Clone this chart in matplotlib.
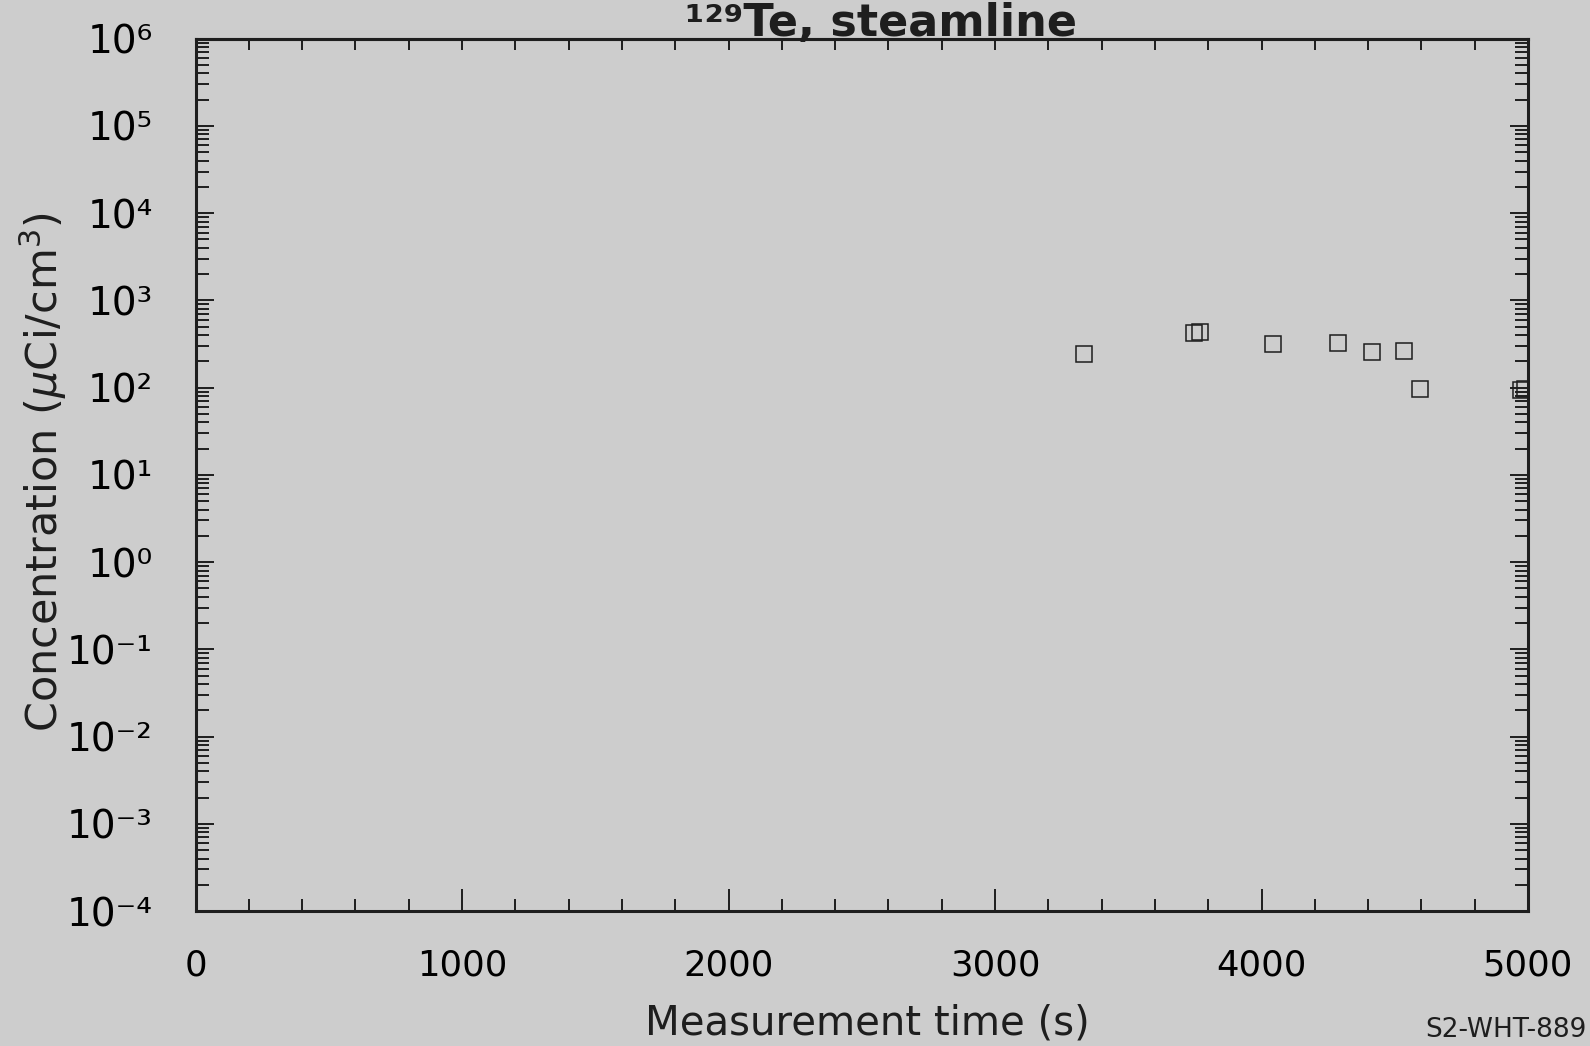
import numpy as np
import matplotlib
matplotlib.use('Agg')
import matplotlib.pyplot as plt
from matplotlib.ticker import MultipleLocator, LogLocator, NullFormatter

# ── Data ──────────────────────────────────────────────────────────────────────
time_s = [3334, 3746, 3769, 4042, 4288, 4413, 4534, 4595, 4975, 4990]
conc   = [240, 425, 440, 315, 325, 258, 265, 96, 94, 96]

x_ticks     = [0, 1000, 2000, 3000, 4000, 5000]
y_exponents = list(range(-4, 7))

BG  = '#cdcdcd'
INK = '#1e1e1e'

SUP = str.maketrans('-0123456789', '⁻⁰¹²³⁴⁵⁶⁷⁸⁹')

fig = plt.figure(figsize=(15.9, 10.46), dpi=100, facecolor=BG)
ax = fig.add_axes([0.123, 0.129, 0.838, 0.834], facecolor=BG)

ax.plot(time_s, conc, linestyle='none', marker='s', markersize=11,
        markerfacecolor='none', markeredgecolor=INK, markeredgewidth=1.1)

ax.set_yscale('log')
ax.set_xlim(0, 5000)
ax.set_ylim(1e-4, 1e6)

# x axis: labelled majors at 1000, minors every 200 (bottom)
ax.set_xticks(x_ticks, [str(t) for t in x_ticks])
ax.xaxis.set_minor_locator(MultipleLocator(200))
ax.tick_params(axis='x', which='major', direction='in', length=16, width=1.4,
               color=INK, labelsize=25.5, pad=27, top=False)
ax.tick_params(axis='x', which='minor', direction='in', length=8.5, width=1.4,
               color=INK, top=False)

# top axis: plain ticks every 200
top = ax.secondary_xaxis('top')
top.xaxis.set_major_locator(MultipleLocator(200))
top.xaxis.set_major_formatter(NullFormatter())
top.tick_params(direction='in', length=8, width=1.4, color=INK)
top.spines['top'].set_linewidth(2.2)
top.spines['top'].set_color(INK)

# y axis: decades with 2..9 minors on both sides
ax.set_yticks([10.0 ** e for e in y_exponents],
              ['10' + str(e).translate(SUP) for e in y_exponents])
ax.yaxis.set_minor_locator(LogLocator(base=10, subs=np.arange(2, 10), numticks=100))
ax.yaxis.set_minor_formatter(NullFormatter())
ax.tick_params(axis='y', which='major', direction='in', length=13, width=1.4,
               color=INK, labelsize=28, pad=31, right=True)
ax.tick_params(axis='y', which='minor', direction='in', length=9.5, width=1.4,
               color=INK, right=True)

for s in ax.spines.values():
    s.set_linewidth(2.2)
    s.set_color(INK)

# labels
fig.text(0.5455, 1 - 1035 / 1046, 'Measurement time (s)', fontsize=29,
         ha='center', va='baseline', color=INK)
fig.text(43 / 1590, 0.549, r'Concentration ($\mu$Ci/cm$^3$)', fontsize=31,
         rotation=90, ha='center', va='center', color=INK)
fig.text(1077 / 1590, 1 - 36 / 1046, '¹²⁹Te, steamline', fontsize=32,
         fontweight='bold', ha='right', va='baseline', color=INK)
fig.text(1425 / 1590, 1 - 1037 / 1046, 'S2-WHT-889', fontsize=19,
         ha='left', va='baseline', color=INK)

fig.savefig('out.png', dpi=100, facecolor=BG)
